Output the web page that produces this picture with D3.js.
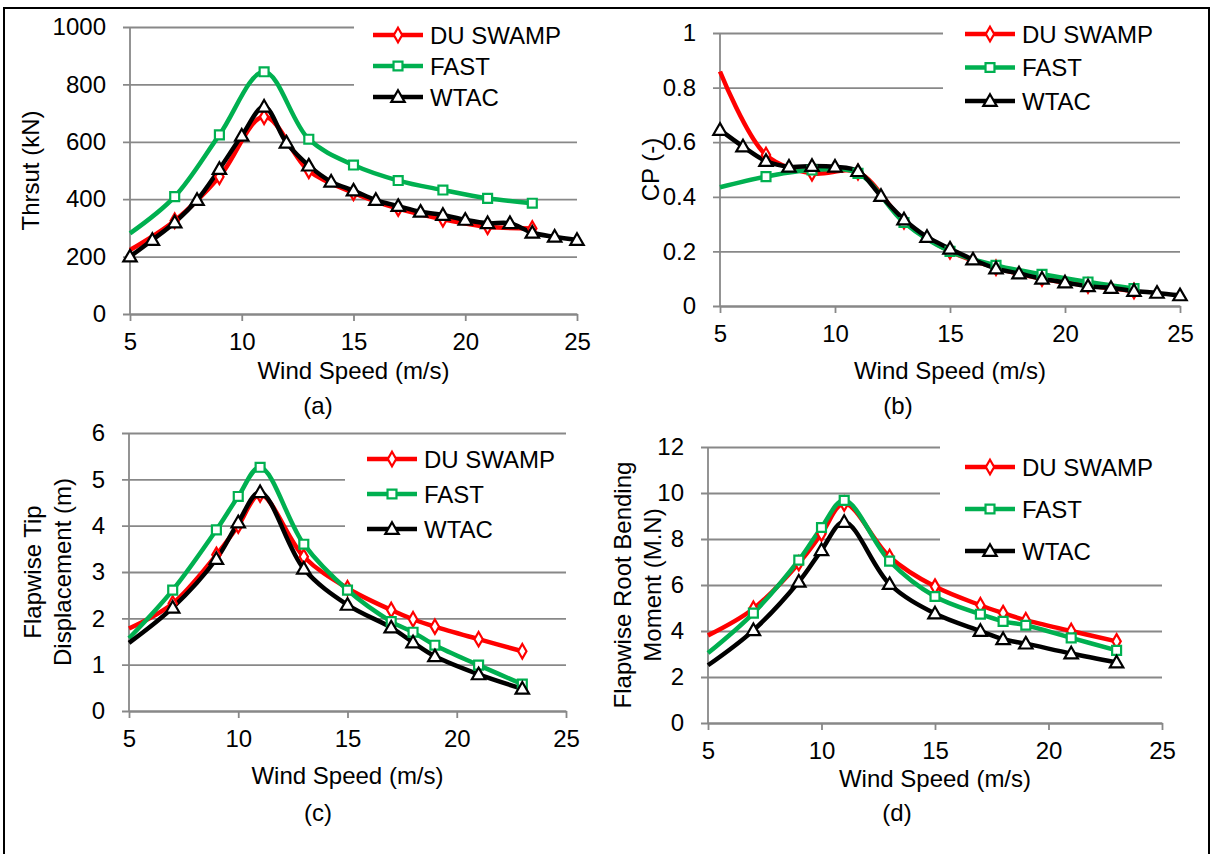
<!DOCTYPE html>
<html>
<head>
<meta charset="utf-8">
<script src="https://cdn.jsdelivr.net/npm/d3@7"></script>
<style>
  body { margin: 0; background: #fff; }
  text { font-family: "Liberation Sans", Arial, sans-serif; fill: #000; }
</style>
</head>
<body>
<div id="fig"></div>
<script>
// SVG setup
const width = 1213;
const height = 854;

// ---- data ----
const windOdd = [5, 7, 9, 11, 13, 15, 17, 19, 21, 23];
const windAll = [5, 6, 7, 8, 9, 10, 11, 12, 13, 14, 15, 16, 17, 18, 19, 20, 21, 22, 23, 24, 25];
const windCD = [5, 7, 9, 10, 11, 13, 15, 17, 18, 19, 21, 23];

const seriesNames = ["DU SWAMP", "FAST", "WTAC"];
const seriesColors = ["#ff0000", "#00b050", "#000000"];

// (a) thrust, kN
const thrustSwamp = [223, 325, 478, 687, 499, 422, 367, 330, 304, 298];
const thrustFast = [281, 409, 624, 844, 609, 519, 465, 432, 403, 386];
const thrustWtac = [200, 258, 319, 397, 505, 621, 722, 597, 517, 461, 430, 397, 376, 356, 345, 328, 316, 316, 283, 269, 258];

// (b) power coefficient
const cpSwamp = [0.859, 0.553, 0.486, 0.49, 0.31, 0.2, 0.14, 0.1, 0.075, 0.055];
const cpFast = [0.435, 0.474, 0.498, 0.486, 0.306, 0.2, 0.149, 0.116, 0.088, 0.064];
const cpWtac = [0.645, 0.584, 0.531, 0.51, 0.513, 0.51, 0.494, 0.403, 0.317, 0.253, 0.21, 0.17, 0.137, 0.119, 0.1, 0.086, 0.072, 0.066, 0.055, 0.048, 0.039];

// (c) flapwise tip displacement, m
const tipSwamp = [1.78, 2.32, 3.37, 4.0, 4.67, 3.33, 2.65, 2.18, 1.98, 1.82, 1.55, 1.29];
const tipFast = [1.57, 2.61, 3.91, 4.63, 5.26, 3.6, 2.61, 1.93, 1.70, 1.42, 0.99, 0.58];
const tipWtac = [1.47, 2.23, 3.28, 4.07, 4.72, 3.07, 2.29, 1.80, 1.48, 1.18, 0.79, 0.48];

// (d) flapwise root bending moment, M.N
const momSwamp = [3.81, 4.97, 6.95, 8.23, 9.54, 7.22, 5.93, 5.12, 4.78, 4.47, 4.0, 3.55];
const momFast = [3.04, 4.78, 7.08, 8.5, 9.68, 7.04, 5.5, 4.73, 4.42, 4.25, 3.70, 3.16];
const momWtac = [2.51, 4.03, 6.14, 7.51, 8.74, 6.04, 4.76, 4.0, 3.64, 3.45, 3.02, 2.63];

// tick labels
const xTicks = [5, 10, 15, 20, 25];
const yTicksA = [0, 200, 400, 600, 800, 1000];
const yTicksB = [0, 0.2, 0.4, 0.6, 0.8, 1];
const yTicksC = [0, 1, 2, 3, 4, 5, 6];
const yTicksD = [0, 2, 4, 6, 8, 10, 12];

// ---- layout of the four panels ----
const panels = [
  {
    box: [130, 577, 27, 314], yMax: 1000, yTicks: yTicksA,
    yTitle: ["Thrsut (kN)"], yTitleX: [30],
    xTitleY: 370, caption: "(a)", capX: 318, capY: 405,
    legend: {x: 373, y: 35, gap: 31, bg: [354, 14, 250, 106]},
    series: [
      {x: windOdd, y: thrustSwamp, skipFirst: true},
      {x: windOdd, y: thrustFast, skipFirst: true},
      {x: windAll, y: thrustWtac, skipFirst: false}
    ]
  },
  {
    box: [720, 1180, 33, 306], yMax: 1, yTicks: yTicksB,
    yTitle: ["CP (-)"], yTitleX: [650],
    xTitleY: 370, caption: "(b)", capX: 898, capY: 405,
    legend: {x: 965, y: 34, gap: 33.5, bg: [943, 14, 260, 108]},
    series: [
      {x: windOdd, y: cpSwamp, skipFirst: true},
      {x: windOdd, y: cpFast, skipFirst: true},
      {x: windAll, y: cpWtac, skipFirst: false}
    ]
  },
  {
    box: [129, 566, 433, 711], yMax: 6, yTicks: yTicksC,
    yTitle: ["Flapwise Tip", "Displacement (m)"], yTitleX: [32, 62],
    xTitleY: 775, caption: "(c)", capX: 318, capY: 812,
    legend: {x: 367, y: 459, gap: 35, bg: [345, 440, 250, 108]},
    series: [
      {x: windCD, y: tipSwamp, skipFirst: true},
      {x: windCD, y: tipFast, skipFirst: true},
      {x: windCD, y: tipWtac, skipFirst: true}
    ]
  },
  {
    box: [708, 1162, 447, 723], yMax: 12, yTicks: yTicksD,
    yTitle: ["Flapwise Root Bending", "Moment (M.N)"], yTitleX: [622, 652],
    xTitleY: 778, caption: "(d)", capX: 897, capY: 812,
    legend: {x: 965, y: 467, gap: 42, bg: [940, 440, 260, 128]},
    series: [
      {x: windCD, y: momSwamp, skipFirst: true},
      {x: windCD, y: momFast, skipFirst: true},
      {x: windCD, y: momWtac, skipFirst: true}
    ]
  }
];

const gridColor = "#888888";
const fontSize = 24;

const svg = d3.select("#fig")
  .append("svg")
  .attr("width", width)
  .attr("height", height);

svg.append("rect")
  .attr("width", width).attr("height", height)
  .attr("fill", "#fff");

// outer frame
svg.append("rect")
  .attr("x", 4).attr("y", 8)
  .attr("width", 1205).attr("height", 870)
  .attr("fill", "none")
  .attr("stroke", "#000")
  .attr("stroke-width", 2);

const symbols = [d3.symbolDiamond, d3.symbolSquare, d3.symbolTriangle];
const symbolSizes = [60, 80, 78];

function marker(g, k, cx, cy) {
  g.append("path")
    .attr("d", d3.symbol().type(symbols[k]).size(symbolSizes[k])())
    .attr("transform", `translate(${cx},${cy + (k === 2 ? 1 : 0)})`)
    .attr("fill", "#fff")
    .attr("stroke", seriesColors[k])
    .attr("stroke-width", 2.2);
}

panels.forEach(p => {
  const [x0, x1, y0, y1] = p.box;
  const g = svg.append("g");

  const x = d3.scaleLinear().domain([5, 25]).range([x0, x1]);
  const y = d3.scaleLinear().domain([0, p.yMax]).range([y1, y0]);

  // y gridlines + labels
  const yAxis = g.append("g")
    .attr("transform", `translate(${x0 - 7},0)`)
    .call(d3.axisLeft(y)
      .tickValues(p.yTicks)
      .tickFormat(d => String(d))
      .tickSizeInner(-(x1 - x0 + 7))
      .tickSizeOuter(0)
      .tickPadding(17));
  yAxis.select(".domain").remove();
  yAxis.selectAll("line").attr("stroke", gridColor).attr("stroke-width", 1.8);
  yAxis.selectAll("text").attr("font-size", fontSize).attr("fill", "#000");

  // legend background hides the gridlines behind it
  g.append("rect")
    .attr("x", p.legend.bg[0]).attr("y", p.legend.bg[1])
    .attr("width", p.legend.bg[2]).attr("height", p.legend.bg[3])
    .attr("fill", "#fff");

  // x axis
  const xAxis = g.append("g")
    .attr("transform", `translate(0,${y1})`)
    .call(d3.axisBottom(x)
      .tickValues(xTicks)
      .tickSizeInner(7)
      .tickSizeOuter(0)
      .tickPadding(12));
  xAxis.select(".domain").attr("stroke", gridColor).attr("stroke-width", 1.8);
  xAxis.selectAll("line").attr("stroke", gridColor).attr("stroke-width", 1.8);
  xAxis.selectAll("text").attr("font-size", fontSize).attr("fill", "#000");

  // vertical axis line
  g.append("line")
    .attr("x1", x0).attr("x2", x0)
    .attr("y1", y0).attr("y2", y1)
    .attr("stroke", gridColor).attr("stroke-width", 1.8);

  // titles
  g.append("text")
    .attr("x", (x0 + x1) / 2).attr("y", p.xTitleY)
    .attr("text-anchor", "middle")
    .attr("dominant-baseline", "central")
    .attr("font-size", fontSize)
    .text("Wind Speed (m/s)");

  g.append("text")
    .attr("x", p.capX).attr("y", p.capY)
    .attr("text-anchor", "middle")
    .attr("dominant-baseline", "central")
    .attr("font-size", fontSize)
    .text(p.caption);

  p.yTitle.forEach((t, i) => {
    g.append("text")
      .attr("transform", `translate(${p.yTitleX[i]},${(y0 + y1) / 2}) rotate(-90)`)
      .attr("text-anchor", "middle")
      .attr("dominant-baseline", "central")
      .attr("font-size", fontSize)
      .text(t);
  });

  // series
  const line = d3.line()
    .x(d => x(d[0]))
    .y(d => y(d[1]))
    .curve(d3.curveCatmullRom.alpha(0.5));

  p.series.forEach((s, k) => {
    const pts = s.x.map((v, i) => [v, s.y[i]]);
    g.append("path")
      .attr("d", line(pts))
      .attr("fill", "none")
      .attr("stroke", seriesColors[k])
      .attr("stroke-width", 4.5)
      .attr("stroke-linejoin", "round");
  });
  p.series.forEach((s, k) => {
    s.x.forEach((v, i) => {
      if (i === 0 && s.skipFirst) return;
      marker(g, k, x(v), y(s.y[i]));
    });
  });

  // legend
  seriesNames.forEach((name, k) => {
    const ly = p.legend.y + k * p.legend.gap;
    g.append("line")
      .attr("x1", p.legend.x).attr("x2", p.legend.x + 50)
      .attr("y1", ly).attr("y2", ly)
      .attr("stroke", seriesColors[k])
      .attr("stroke-width", 4.5);
    marker(g, k, p.legend.x + 25, ly);
    g.append("text")
      .attr("x", p.legend.x + 57).attr("y", ly)
      .attr("dominant-baseline", "central")
      .attr("font-size", fontSize)
      .text(name);
  });
});
</script>
</body>
</html>
